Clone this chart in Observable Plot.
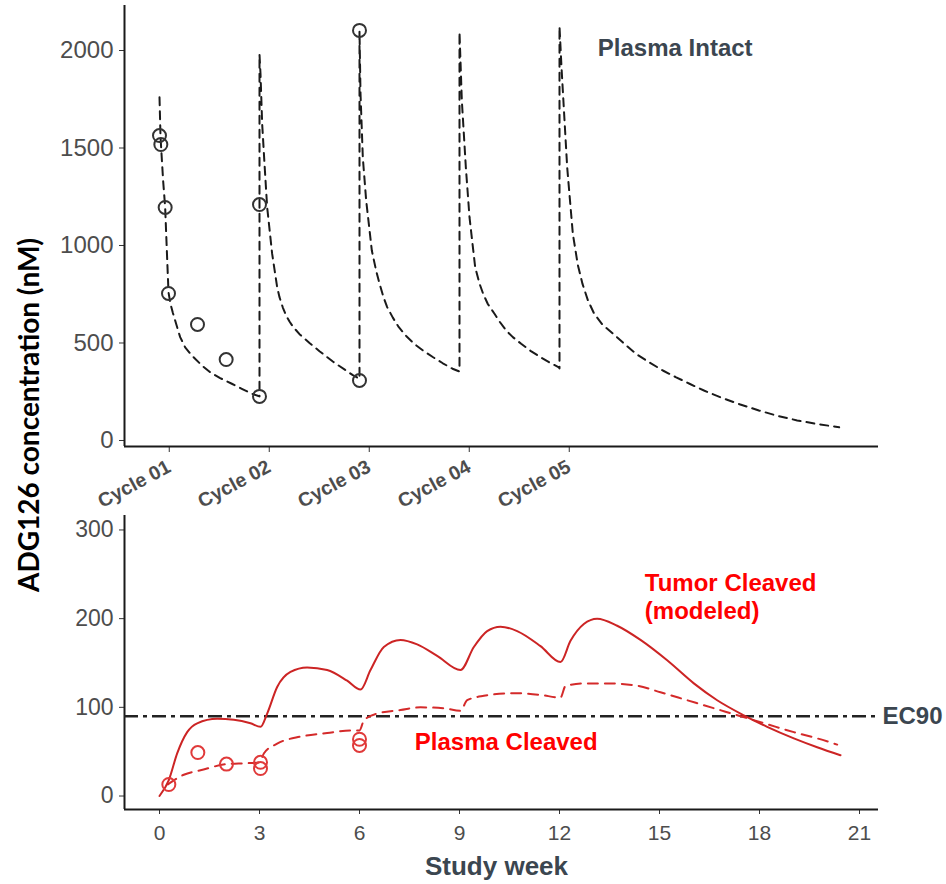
<!DOCTYPE html>
<html>
<head>
<meta charset="utf-8">
<script src="https://cdn.jsdelivr.net/npm/d3@7"></script>
<script src="https://cdn.jsdelivr.net/npm/@observablehq/plot@0.6"></script>
<style>
  html, body { margin: 0; padding: 0; background: #fff; }
  #wrap { position: relative; width: 946px; height: 884px; background: #fff; }
  #wrap svg { display: block; }
  #ylabel {
    position: absolute; left: 28px; top: 415px; z-index: 2;
    transform: translate(-50%, -50%) rotate(-90deg);
    white-space: nowrap; font-family: Lato, "Open Sans", sans-serif;
    font-weight: bold; font-size: 28px; color: #000;
  }
</style>
</head>
<body>
<div id="wrap"><div id="ylabel">ADG126 concentration (nM)</div></div>
<script>
// ---------- Data ----------
// Top panel: Plasma Intact model (dashed) — week, nM
const intactWeek = [0, 0.03, 0.05, 0.11, 0.17, 0.22, 0.27, 0.33, 0.4, 0.47, 0.62, 0.77, 0.97, 1.27, 1.52, 1.82, 2.17, 2.47, 2.77, 2.97,
  3.0, 3.0, 3.03, 3.08, 3.15, 3.23, 3.38, 3.53, 3.6, 3.7, 3.8, 3.9, 4.0, 4.2, 4.5, 4.8, 5.2, 5.57, 5.8, 5.98,
  6.0, 6.0, 6.03, 6.1, 6.2, 6.37, 6.5, 6.6, 6.72, 6.83, 7.0, 7.18, 7.4, 7.64, 7.9, 8.21, 8.5, 8.79, 8.98,
  9.0, 9.0, 9.07, 9.19, 9.3, 9.47, 9.6, 9.71, 9.85, 10.05, 10.2, 10.4, 10.6, 10.85, 11.13, 11.43, 11.7, 11.98,
  12.0, 12.0, 12.06, 12.23, 12.4, 12.55, 12.69, 12.85, 13.04, 13.3, 13.61, 13.95, 14.3, 14.7, 15.1, 15.5, 15.9, 16.35, 16.82, 17.4, 17.98, 18.55, 19.13, 19.75, 20.39];
const intactModel = [1760, 1560, 1500, 1330, 1195, 975, 760, 700, 655, 615, 530, 478, 436, 385, 350, 320, 291, 265, 240, 228,
  226, 1980, 1880, 1624, 1419, 1196, 957, 786, 735, 682, 640, 610, 585, 545, 500, 458, 405, 362, 335, 318,
  316, 2100, 1780, 1450, 1231, 974, 870, 805, 735, 684, 630, 581, 536, 496, 462, 427, 396, 368, 355,
  355, 2094, 1744, 1402, 1145, 889, 805, 752, 700, 650, 610, 564, 530, 496, 460, 427, 400, 375,
  370, 2123, 1914, 1402, 1060, 900, 803, 720, 650, 592, 547, 495, 444, 400, 359, 324, 291, 255, 222, 186, 154, 126, 103, 84, 68];
// Top panel: observed plasma intact
const intactObsWeek = [0, 0.04, 0.17, 0.27, 1.14, 2.0, 3.0, 3.0, 6.0, 6.0];
const intactObsValue = [1564, 1518, 1195, 754, 595, 415, 226, 1210, 2103, 308];
const intactTicks = [0, 500, 1000, 1500, 2000];
const cycleLabels = ["Cycle 01", "Cycle 02", "Cycle 03", "Cycle 04", "Cycle 05"];
const cycleWeeks = [1/7, 3 + 1/7, 6 + 1/7, 9 + 1/7, 12 + 1/7];

// Bottom panel: Tumor Cleaved (modeled, solid)
const tumorWeek = [0, 0.28, 0.53, 0.83, 1.13, 1.73, 2.23, 2.73, 3.03, 3.23, 3.53, 3.93, 4.43, 5.03, 5.63, 6.03,
  6.33, 6.73, 7.23, 7.73, 8.33, 9.03, 9.43, 9.83, 10.23, 10.73, 11.43, 12.03, 12.33, 12.73, 13.13, 13.73,
  14.43, 15.23, 16.03, 16.73, 17.53, 18.23, 19.03, 19.73, 20.43];
const tumorModel = [0, 18, 48, 72, 82, 87, 86, 82, 78, 93, 123, 140, 145, 142, 130, 120,
  142, 168, 176, 171, 158, 142, 168, 186, 191, 186, 169, 151, 175, 194, 200, 192,
  176, 153, 127, 108, 91, 78, 65, 55, 46];
// Bottom panel: Plasma Cleaved model (dashed)
const cleavedWeek = [0.25, 0.73, 1.23, 2.03, 2.63, 3.0, 3.13, 3.53, 4.23, 5.03, 5.73, 6.0, 6.13, 6.53, 7.23, 7.83, 8.53, 9.03,
  9.23, 9.73, 10.63, 11.43, 12.03, 12.18, 12.73, 13.43, 14.23, 15.03, 15.83, 16.63, 17.43, 18.23, 19.03, 19.73, 20.33];
const cleavedModel = [13, 24, 29, 36, 37, 38, 48, 59, 67, 71, 74, 74, 85, 93, 97, 100, 99, 96,
  108, 113, 116, 114, 111, 124, 127, 127, 125, 117, 108, 99, 90, 81, 72, 65, 58];
// Bottom panel: observed plasma cleaved
const cleavedObsWeek = [0.28, 1.15, 2.01, 3.03, 3.03, 6.0, 6.0];
const cleavedObsValue = [13, 49, 36, 38, 31, 64, 57];
const ec90 = 90;
const cleavedTicks = [0, 100, 200, 300];
const weekTicks = [0, 3, 6, 9, 12, 15, 18, 21];

// Annotation labels (text, week, value)
const topLabelText = ["Plasma Intact"];
const topLabelWeek = [13.15];
const topLabelValue = [2010];
const botLabelText = ["Tumor Cleaved", "(modeled)", "Plasma Cleaved", "EC90"];
const botLabelWeek = [14.56, 14.56, 7.66, 21.69];
const botLabelValue = [239.5, 208, 60.3, 89.5];
const botLabelColor = ["#ff0000", "#ff0000", "#ff0000", "#3b4650"];

// ---------- Build tables ----------
const intactLine = intactWeek.map((w, i) => ({week: w, value: intactModel[i]}));
const intactObs = intactObsWeek.map((w, i) => ({week: w, value: intactObsValue[i]}));
const tumorLine = tumorWeek.map((w, i) => ({week: w, value: tumorModel[i]}));
const cleavedLine = cleavedWeek.map((w, i) => ({week: w, value: cleavedModel[i]}));
const cleavedObs = cleavedObsWeek.map((w, i) => ({week: w, value: cleavedObsValue[i]}));
const topLabels = topLabelText.map((t, i) => ({text: t, week: topLabelWeek[i], value: topLabelValue[i]}));
const botLabels = botLabelText.map((t, i) => ({text: t, week: botLabelWeek[i], value: botLabelValue[i], color: botLabelColor[i]}));

const font = "'Liberation Sans', Arial, Helvetica, sans-serif";
const xDomain = [-1.05, 21.57];
const yTopDomain = [-30.8, 2230.8];
const yBotDomain = [-15.2, 316.3];

const topChart = Plot.plot({
  width: 946, height: 500,
  marginLeft: 124, marginRight: 68, marginTop: 5, marginBottom: 54,
  style: {fontFamily: font, background: "#fff", overflow: "visible"},
  x: {domain: xDomain},
  y: {domain: yTopDomain},
  marks: [
    Plot.axisY({ticks: intactTicks, tickFormat: d => String(d), label: null,
      tickSize: 5, tickPadding: 6, fontSize: 24, stroke: "#333", fill: "#4d4d4d"}),
    Plot.axisX({ticks: cycleWeeks, tickFormat: d => cycleLabels[cycleWeeks.indexOf(d)], label: null,
      tickSize: 6, tickPadding: 13, tickRotate: -28, dx: 5, fontSize: 19.5, fontWeight: "bold",
      stroke: "#333", fill: "#4d4d4d"}),
    Plot.ruleX([xDomain[0]], {stroke: "#1a1a1a", strokeWidth: 2}),
    Plot.ruleY([yTopDomain[0]], {stroke: "#1a1a1a", strokeWidth: 2}),
    Plot.line(intactLine, {x: "week", y: "value", stroke: "#1a1a1a", strokeWidth: 2, strokeDasharray: "8,6"}),
    Plot.dot(intactObs, {x: "week", y: "value", r: 6.5, stroke: "#333", strokeWidth: 2, fill: "none"}),
    Plot.text(topLabels, {x: "week", y: "value", text: "text", textAnchor: "start", fontSize: 24,
      fontWeight: "bold", fill: "#3b4650"})
  ]
});

const bottomChart = Plot.plot({
  width: 946, height: 384,
  marginLeft: 124, marginRight: 68, marginTop: 15, marginBottom: 75,
  style: {fontFamily: font, background: "#fff", overflow: "visible"},
  x: {domain: xDomain},
  y: {domain: yBotDomain},
  marks: [
    Plot.axisY({ticks: cleavedTicks, tickFormat: d => String(d), label: null,
      tickSize: 5, tickPadding: 6, fontSize: 23, stroke: "#333", fill: "#4d4d4d"}),
    Plot.axisX({ticks: weekTicks, tickFormat: d => String(d), label: null,
      tickSize: 5, tickPadding: 11, fontSize: 21, stroke: "#333", fill: "#4d4d4d"}),
    Plot.ruleX([xDomain[0]], {stroke: "#1a1a1a", strokeWidth: 2}),
    Plot.ruleY([yBotDomain[0]], {stroke: "#1a1a1a", strokeWidth: 2}),
    Plot.ruleY([ec90], {stroke: "#222", strokeWidth: 2.5, strokeDasharray: "14,5,4,5"}),
    Plot.line(cleavedLine, {x: "week", y: "value", stroke: "#d42a2a", strokeWidth: 2, strokeDasharray: "10,7", curve: "monotone-x"}),
    Plot.line(tumorLine, {x: "week", y: "value", stroke: "#cc2424", strokeWidth: 2, curve: "monotone-x"}),
    Plot.dot(cleavedObs, {x: "week", y: "value", r: 6.5, stroke: "#e03a3a", strokeWidth: 2, fill: "none"}),
    Plot.text(botLabels, {x: "week", y: "value", text: "text", textAnchor: "start", fontSize: 24,
      fontWeight: "bold", fill: "color"}),
    Plot.text(["Study week"], {frameAnchor: "bottom", lineAnchor: "middle", dy: 57, dx: -5,
      fontSize: 26, fontWeight: "bold", fill: "#3b4650"})
  ]
});

const wrap = document.getElementById("wrap");
wrap.appendChild(topChart);
wrap.appendChild(bottomChart);
</script>
</body>
</html>
